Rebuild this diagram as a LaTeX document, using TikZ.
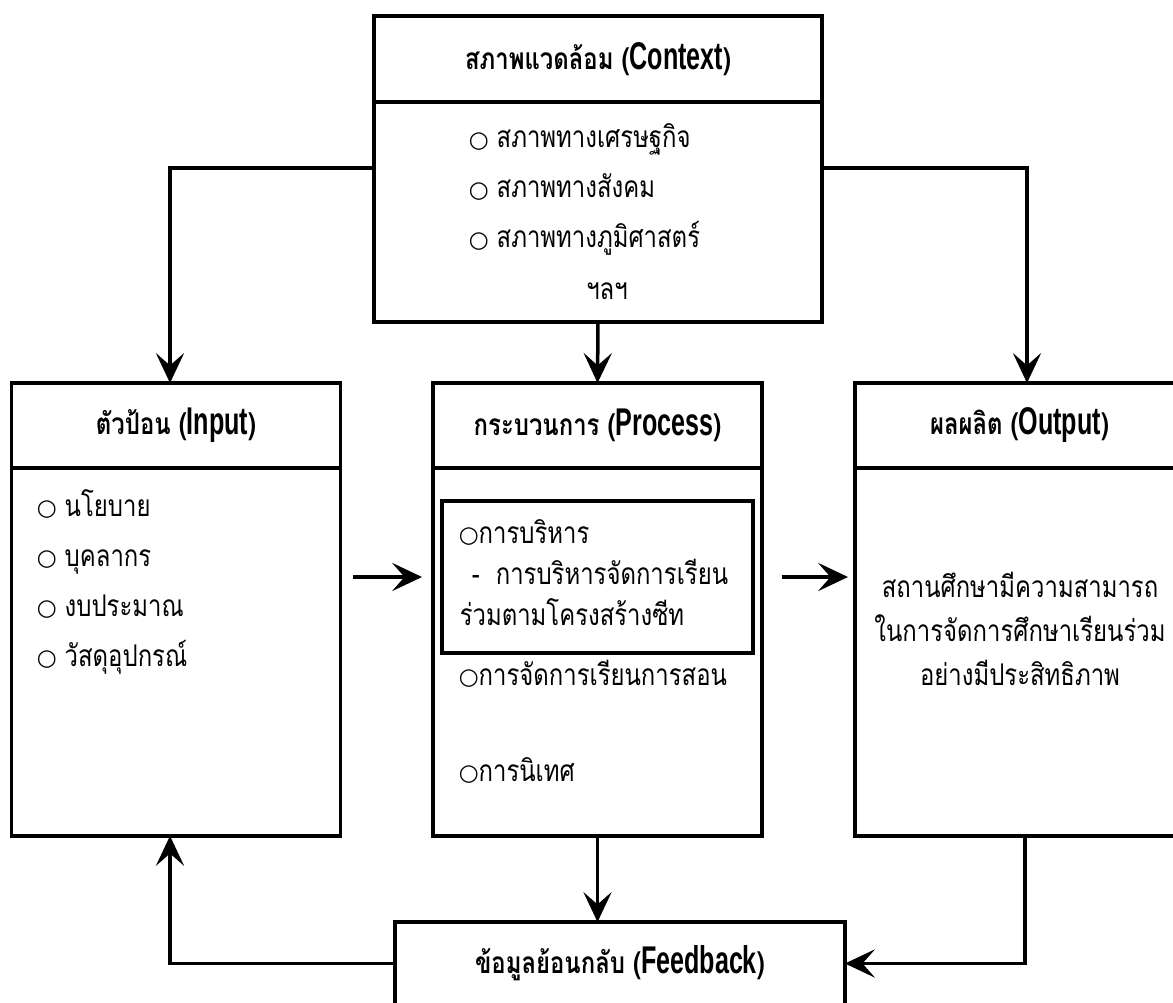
\documentclass[tikz,border=0pt]{standalone}
\usepackage{fontspec}
\usepackage{tikz}
\usetikzlibrary{positioning,arrows.meta}
\newfontfamily\thaifont[Script=Thai,FakeStretch=0.8]{Loma}
\newfontfamily\latfont[FakeStretch=0.65]{Liberation Sans}
\newfontfamily\symfont{DejaVu Sans}
\def\boxw{6.58cm}
\def\headh{1.7cm}
\def\bodyh{7.36cm}
\newcommand{\bul}{{\symfont\fontsize{13}{13}\selectfont\raisebox{0.5pt}{○}}}
\newcommand{\eng}[1]{{\latfont\bfseries\fontsize{22}{22}\selectfont #1}}

\begin{document}
\begin{tikzpicture}[x=0.02cm,y=-0.02cm,line width=2pt,node distance=0pt]
    \tikzstyle{every node}=[font=\thaifont\fontsize{17}{20}\selectfont]
    \tikzstyle{head}=[draw,rectangle,outer sep=0pt,inner sep=0pt,minimum width=\boxw,minimum height=\headh,font=\thaifont\bfseries\fontsize{17}{20}\selectfont]
    \tikzstyle{body}=[draw,rectangle,outer sep=0pt,inner sep=0pt,minimum width=\boxw,minimum height=\bodyh]
    \tikzstyle{item}=[anchor=base west,inner sep=0pt]
    \tikzstyle{arr}=[-{Stealth[length=17pt,width=16pt,inset=7pt]}]

    \useasboundingbox (0,0) rectangle (1173,1003);
    \clip (0,0) rectangle (1173,1003);

    % Context box
    \node[head, minimum width=8.96cm, minimum height=1.72cm] (ctxh) at (598,59) {สภาพแวดล้อม (\eng{Context})};
    \node[body, minimum width=8.96cm, minimum height=4.4cm, below=of ctxh] (ctxb) {};
    \foreach \txt [count=\i] in {สภาพทางเศรษฐกิจ,สภาพทางสังคม,สภาพทางภูมิศาสตร์}
        \node[item] (ctx-\i) at (467,98+50*\i) {\bul\ \txt};
    \node[anchor=base] (ctx-etc) at (607,300) {ฯลฯ};

    % Input box
    \node[head] (inh) at (176,425.5) {ตัวป้อน (\eng{Input})};
    \node[body, below=of inh] (inb) {};
    \foreach \txt [count=\i] in {นโยบาย,บุคลากร,งบประมาณ,วัสดุอุปกรณ์}
        \node[item] (in-\i) at (35,466+50*\i) {\bul\ \txt};

    % Process box
    \node[head] (prh) at (597.5,425.5) {กระบวนการ (\eng{Process})};
    \node[body, below=of prh] (prb) {};
    \node[draw, line width=2.6pt, minimum width=6.22cm, minimum height=3.04cm] (prin) at (597.5,577) {};
    \node[item] (pr-1) at (457,543) {\bul การบริหาร};
    \node[item] (pr-2) at (470,584) {-\ \ การบริหารจัดการเรียน};
    \node[item] (pr-3) at (458,625) {ร่วมตามโครงสร้างซีท};
    \node[item] (pr-4) at (457,685) {\bul การจัดการเรียนการสอน};
    \node[item] (pr-5) at (457,781) {\bul การนิเทศ};

    % Output box
    \node[head] (outh) at (1019.5,425.5) {ผลผลิต (\eng{Output})};
    \node[body, below=of outh] (outb) {};
    \node[anchor=base, align=center, font=\thaifont\fontsize{17}{25}\selectfont] (out-txt) at (1020,685)
        {สถานศึกษามีความสามารถ\\ในการจัดการศึกษาเรียนร่วม\\อย่างมีประสิทธิภาพ};

    % Feedback box
    \node[head, minimum width=9cm, minimum height=1.66cm] (fb) at (620,963.5) {ข้อมูลย้อนกลับ (\eng{Feedback})};

    % Connect the boxes
    \draw[arr] ([yshift=0.88cm]ctxb.west) -| ([xshift=-0.12cm]inh.north);
    \draw[arr] ([yshift=0.88cm]ctxb.east) -| ([xshift=0.15cm]outh.north);
    \draw[arr] (ctxb.south) -- (prh.north);
    \draw[arr, shorten <=0.26cm, shorten >=0.22cm] (inb.east |- prin) -- (prb.west |- prin);
    \draw[arr, shorten <=0.4cm, shorten >=0.14cm] (prb.east |- prin) -- (outb.west |- prin);
    \draw[arr] (prb.south) -- (prb.south |- fb.north);
    \draw[arr] (fb.west) -| ([xshift=-0.12cm]inb.south);
    \draw[arr] ([xshift=0.11cm]outb.south) |- (fb.east);
\end{tikzpicture}
\end{document}
